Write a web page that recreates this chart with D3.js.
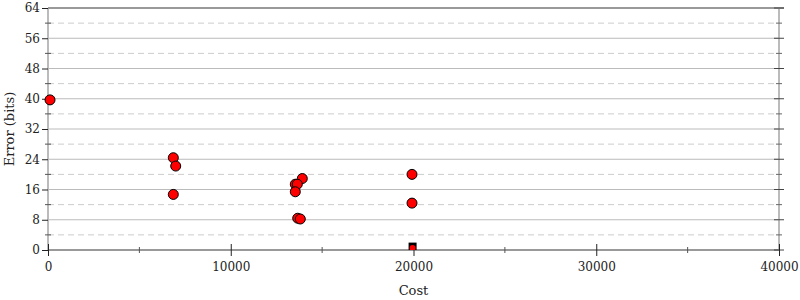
<!DOCTYPE html>
<html>
<head>
<meta charset="utf-8">
<script src="https://cdn.jsdelivr.net/npm/d3@7"></script>
<style>
  body { margin: 0; background: #fff; }
  svg text { font-family: "DejaVu Serif", serif; fill: #222; }
</style>
</head>
<body>
<div id="chart"></div>
<script>
  var width = 800,
      height = 300;

  var margin = {top: 8, right: 21, bottom: 50, left: 48};

  // cost / error of each candidate program
  var costs  = [110, 6857, 6988, 6857, 13915, 13532, 13642, 13532, 13664, 13806, 19918, 19918];
  var errors = [39.7, 24.4, 22.2, 14.7, 18.9, 17.4, 17.4, 15.4, 8.4, 8.2, 20.0, 12.4];

  // the initial program (square marker)
  var startCost = [19950],
      startError = [0.9];

  var xTicks = [0, 10000, 20000, 30000, 40000],
      xMinor = [5000, 15000, 25000, 35000],
      yTicks = [0, 8, 16, 24, 32, 40, 48, 56, 64],
      yMinor = [4, 12, 20, 28, 36, 44, 52, 60];

  var svg = d3.select("#chart").append("svg")
      .attr("width", width)
      .attr("height", height);

  var x = d3.scaleLinear()
      .domain([0, 40000])
      .range([margin.left, width - margin.right]);

  var y = d3.scaleLinear()
      .domain([0, 64])
      .range([height - margin.bottom, margin.top]);

  svg.append("defs").append("clipPath")
      .attr("id", "clip")
    .append("rect")
      .attr("x", margin.left)
      .attr("y", margin.top)
      .attr("width", x(40000) - margin.left)
      .attr("height", y(0) - margin.top);

  // grid
  svg.append("g").selectAll("line")
      .data(yMinor)
    .enter().append("line")
      .attr("x1", x(0)).attr("x2", x(40000))
      .attr("y1", y).attr("y2", y)
      .attr("stroke", "#ccc")
      .attr("stroke-dasharray", "6,4");

  svg.append("g").selectAll("line")
      .data(yTicks.slice(1, -1))
    .enter().append("line")
      .attr("x1", x(0)).attr("x2", x(40000))
      .attr("y1", y).attr("y2", y)
      .attr("stroke", "#bbb");

  // frame
  svg.append("line")
      .attr("x1", x(0)).attr("x2", x(0))
      .attr("y1", y(64)).attr("y2", y(0))
      .attr("stroke", "#bbb").attr("stroke-width", 2);
  svg.append("line")
      .attr("x1", x(40000)).attr("x2", x(40000))
      .attr("y1", y(64)).attr("y2", y(0))
      .attr("stroke", "#bbb").attr("stroke-width", 2);
  svg.append("line")
      .attr("x1", x(0)).attr("x2", x(40000) + 5)
      .attr("y1", y(64)).attr("y2", y(64))
      .attr("stroke", "#999").attr("stroke-width", 2);
  svg.append("line")
      .attr("x1", x(0)).attr("x2", x(40000))
      .attr("y1", y(0)).attr("y2", y(0))
      .attr("stroke", "#999").attr("stroke-width", 2);

  // y axis, left
  var yAxis = svg.append("g")
      .attr("transform", "translate(" + x(0) + ",0)")
      .call(d3.axisLeft(y).tickValues(yTicks).tickSize(6).tickPadding(2));
  yAxis.select(".domain").remove();
  yAxis.selectAll("text").attr("font-size", 12).attr("font-family", null);
  yAxis.selectAll("line").attr("stroke", "#222");

  svg.append("g").selectAll("line")
      .data(yMinor)
    .enter().append("line")
      .attr("x1", x(0) - 3).attr("x2", x(0) + 3)
      .attr("y1", y).attr("y2", y)
      .attr("stroke", "#555");

  // y axis, right
  svg.append("g").selectAll("line")
      .data(yTicks)
    .enter().append("line")
      .attr("x1", x(40000) - 5).attr("x2", x(40000) + 5)
      .attr("y1", y).attr("y2", y)
      .attr("stroke", "#444");
  svg.append("g").selectAll("line")
      .data(yMinor)
    .enter().append("line")
      .attr("x1", x(40000) - 3).attr("x2", x(40000) + 3)
      .attr("y1", y).attr("y2", y)
      .attr("stroke", "#666");

  // x axis
  var xAxis = svg.append("g")
      .attr("transform", "translate(0," + y(0) + ")")
      .call(d3.axisBottom(x).tickValues(xTicks).tickFormat(d3.format("d")).tickSize(6).tickPadding(6));
  xAxis.select(".domain").remove();
  xAxis.selectAll("text").attr("font-size", 12).attr("font-family", null);
  xAxis.selectAll("line").attr("y1", -6).attr("stroke", "#222");

  svg.append("g").selectAll("line")
      .data(xMinor)
    .enter().append("line")
      .attr("x1", x).attr("x2", x)
      .attr("y1", y(0) - 3).attr("y2", y(0) + 3)
      .attr("stroke", "#555");

  // labels
  svg.append("text")
      .attr("x", (x(0) + x(40000)) / 2)
      .attr("y", 295)
      .attr("text-anchor", "middle")
      .attr("font-size", 13)
      .text("Cost");

  svg.append("text")
      .attr("transform", "translate(14," + y(32) + ") rotate(-90)")
      .attr("text-anchor", "middle")
      .attr("font-size", 13)
      .text("Error (bits)");

  // points
  var plot = svg.append("g").attr("clip-path", "url(#clip)");

  plot.selectAll("rect")
      .data(startCost)
    .enter().append("rect")
      .attr("x", function(d) { return x(d) - 4; })
      .attr("y", function(d, i) { return y(startError[i]) - 4; })
      .attr("width", 8).attr("height", 8)
      .attr("fill", "#000");

  plot.selectAll("circle.start")
      .data(startCost)
    .enter().append("circle")
      .attr("class", "start")
      .attr("cx", x)
      .attr("cy", function(d, i) { return y(startError[i]) + 1.5; })
      .attr("r", 3)
      .attr("fill", "red");

  svg.append("g").selectAll("circle")
      .data(costs)
    .enter().append("circle")
      .attr("cx", x)
      .attr("cy", function(d, i) { return y(errors[i]); })
      .attr("r", 5)
      .attr("fill", "red")
      .attr("stroke", "#000")
      .attr("stroke-width", 1);
</script>
</body>
</html>
